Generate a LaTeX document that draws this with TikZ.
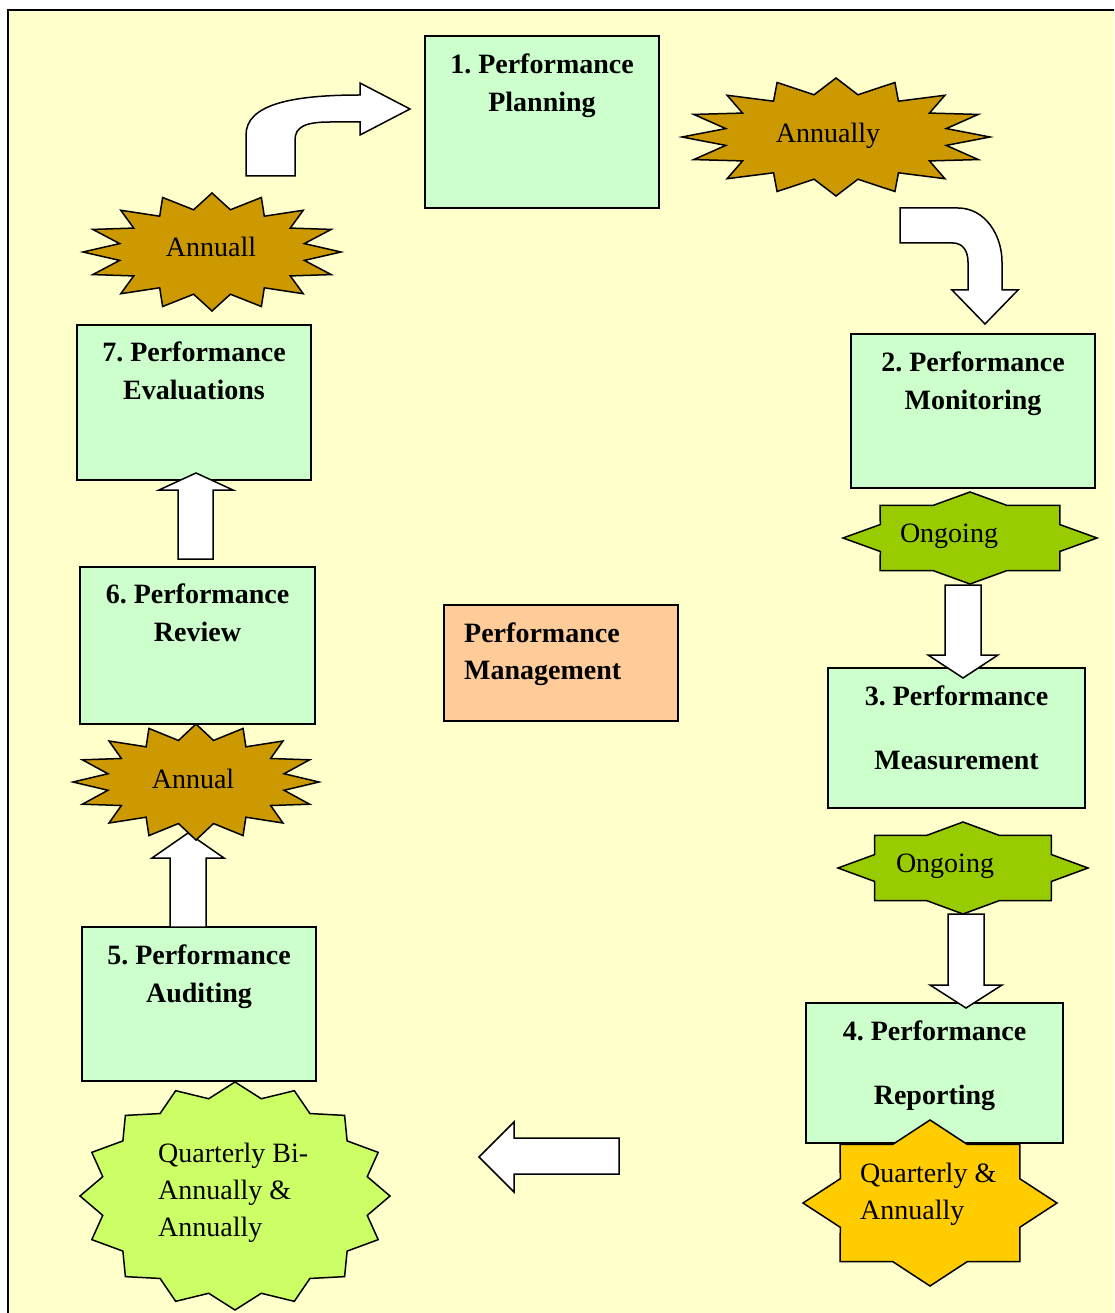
\documentclass[tikz,border=0pt]{standalone}
\usepackage{fontspec}
\setmainfont{Liberation Serif}
\usepackage{tikz}
\usetikzlibrary{calc}
\frenchspacing
\definecolor{pagecream}{HTML}{FFFFCC}
\definecolor{stagegreen}{HTML}{CCFFCC}
\definecolor{mgmtpeach}{HTML}{FFCC99}
\definecolor{burstbrown}{HTML}{CC9900}
\definecolor{burstlime}{HTML}{CCFF66}
\definecolor{ongoinggreen}{HTML}{99CC00}
\definecolor{quarterorange}{HTML}{FFCC00}
\tikzstyle{stage} = [rectangle, draw, fill=stagegreen, line width=1.5pt]
\tikzstyle{stagetext} = [font=\fontsize{28}{38}\selectfont\bfseries, align=center, inner sep=0pt, anchor=north]
\tikzstyle{bursttext} = [font=\fontsize{28}{37}\selectfont, inner sep=0pt, anchor=base]
\tikzstyle{burst} = [draw, line width=1.5pt, line join=miter]
\tikzstyle{blockarrow} = [draw, fill=white, line width=1.5pt, line join=miter]
\newcommand{\drawburst}[7]{%
  \pgfmathtruncatemacro{\burstlast}{2*#5-1}%
  \draw[burst, fill=#7] (#1,{#2-#4})
    \foreach \k in {1,...,\burstlast} {
      -- ({#1+#3*(1-(1-#6)*mod(\k,2))*cos(90+\k*180/#5)},{#2-#4*(1-(1-#6)*mod(\k,2))*sin(90+\k*180/#5)})
    } -- cycle;}

\begin{document}
\begin{tikzpicture}[x=1pt,y=-1pt]
        \useasboundingbox (0,0) rectangle (1114,1313);
        \clip (0,0) rectangle (1114,1313);
        \draw[fill=pagecream, line width=2.5pt] (8,10) rectangle (1140,1340);
        % stage boxes
        \node[stage, minimum width=234pt, minimum height=172pt] (plan-box) at (542,122) {};
        \node[stage, minimum width=244pt, minimum height=154pt] (monitor-box) at (973,411) {};
        \node[stage, minimum width=257pt, minimum height=140pt] (measure-box) at (956.5,738) {};
        \node[stage, minimum width=257pt, minimum height=140pt] (report-box) at (934.5,1073) {};
        \node[stage, minimum width=234pt, minimum height=154pt] (audit-box) at (199,1004) {};
        \node[stage, minimum width=235pt, minimum height=157pt] (review-box) at (197.5,645.5) {};
        \node[stage, minimum width=234pt, minimum height=155pt] (eval-box) at (194,402.5) {};
        \node[stage, fill=mgmtpeach, minimum width=234pt, minimum height=116pt] (mgmt-box) at (561,663) {};
        % block arrows
        \draw[blockarrow] (246,176) -- (246,135) .. controls (246,105) and (290,95) .. (360,95) -- (360,83) -- (410,109) -- (360,135) -- (360,122) -- (330,122) .. controls (305,122) and (295,127) .. (295,140) -- (295,176) -- cycle;
        \draw[blockarrow] (900,208) -- (958,208) .. controls (985,208) and (1002,235) .. (1002,262) -- (1002,290) -- (1018,290) -- (985,324) -- (952,290) -- (968,290) -- (968,262) .. controls (968,250) and (962,243) .. (953,243) -- (900,243) -- cycle;
        \draw[blockarrow] (945,585) -- (981,585) -- (981,655) -- (998,655) -- (963,678) -- (928,655) -- (945,655) -- cycle;
        \draw[blockarrow] (948,914) -- (984,914) -- (984,985) -- (1002,985) -- (966,1008) -- (930,985) -- (948,985) -- cycle;
        \draw[blockarrow] (619,1138) -- (619,1174) -- (514,1174) -- (514,1192) -- (479,1157) -- (514,1122) -- (514,1138) -- cycle;
        \draw[blockarrow] (170,927) -- (206,927) -- (206,858) -- (224,858) -- (188,833) -- (152,858) -- (170,858) -- cycle;
        \draw[blockarrow] (178,559) -- (213,559) -- (213,490) -- (233,490) -- (196,473) -- (159,490) -- (178,490) -- cycle;
        % bursts
        \drawburst{836}{137}{154}{59}{16}{0.73}{burstbrown}
        \drawburst{212}{252}{129}{59}{16}{0.73}{burstbrown}
        \drawburst{196}{782}{123}{58}{16}{0.73}{burstbrown}
        \drawburst{235}{1196}{155}{114}{16}{0.87}{burstlime}
        \drawburst{970}{538}{127}{46}{8}{0.765}{ongoinggreen}
        \drawburst{963}{868}{125}{46}{8}{0.765}{ongoinggreen}
        \drawburst{930}{1203}{127}{83}{8}{0.765}{quarterorange}
        % texts
        \node[stagetext] (plan-text) at (542,54) {1. Performance\\Planning};
        \node[stagetext] (monitor-text) at (973,352) {2. Performance\\Monitoring};
        \node[stagetext] (measure-text) at (956.5,686) {3. Performance\\[26pt]Measurement};
        \node[stagetext] (report-text) at (934.5,1021) {4. Performance\\[26pt]Reporting};
        \node[stagetext] (audit-text) at (199,945) {5. Performance\\Auditing};
        \node[stagetext] (review-text) at (197.5,584) {6. Performance\\Review};
        \node[stagetext] (eval-text) at (194,342) {7. Performance\\Evaluations};
        \node[stagetext, font=\fontsize{28}{37}\selectfont\bfseries, align=left, anchor=north west] (mgmt-text) at (464,623) {Performance\\Management};
        \node[bursttext] (annually-top) at (828,143) {Annually};
        \node[bursttext] (annuall-left) at (211,257) {Annuall};
        \node[bursttext] (annual-left) at (193,788) {Annual};
        \node[bursttext] (ongoing-a) at (949,542) {Ongoing};
        \node[bursttext] (ongoing-b) at (945,872) {Ongoing};
        \node[bursttext, align=left, anchor=north west] (quarter-text) at (860,1163) {Quarterly \&\\Annually};
        \node[bursttext, align=left, anchor=north west] (quarter-bi-text) at (158,1143) {Quarterly Bi-\\Annually \&\\Annually};
    \end{tikzpicture}
\end{document}
